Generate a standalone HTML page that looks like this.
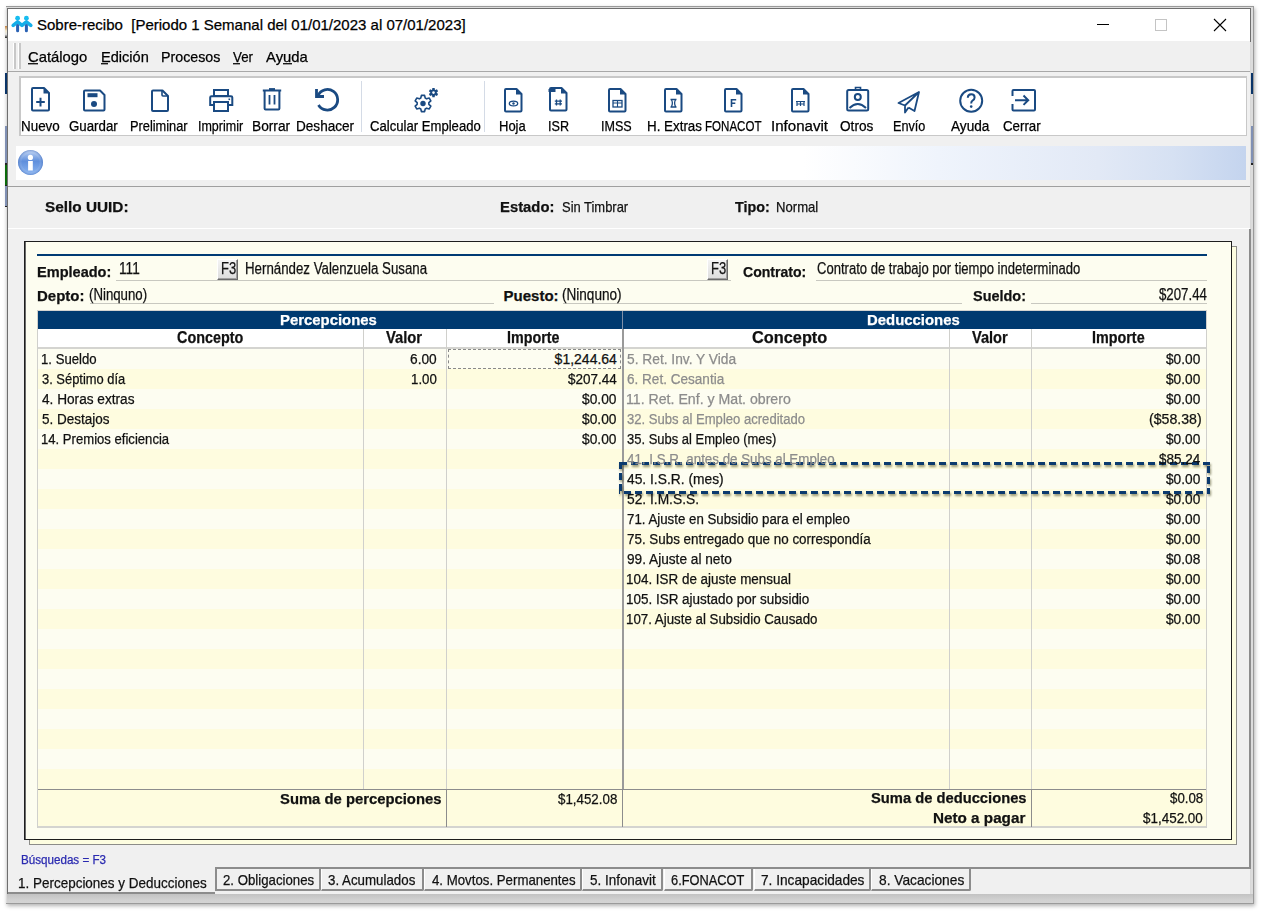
<!DOCTYPE html><html><head><meta charset="utf-8"><style>
html,body{margin:0;padding:0;}body{width:1262px;height:912px;position:relative;overflow:hidden;background:#fff;font-family:"Liberation Sans", sans-serif;}
.t{position:absolute;white-space:pre;transform-origin:0 0;-webkit-text-stroke:0.25px currentColor;}.t.nb{-webkit-text-stroke:0;}u{text-decoration:none;border-bottom:1px solid currentColor;}

.ic{position:absolute;overflow:visible}

</style></head><body>
<div style="position:absolute;left:6px;top:6px;width:1248px;height:898px;box-sizing:border-box;border:1px solid #9a9a9a;border-left:none;background:#dcdcdc;box-shadow:1px 2px 4px rgba(0,0,0,0.30);"></div>
<div style="position:absolute;left:7px;top:894px;width:1246px;height:9px;background:linear-gradient(#c2c2c2,#d0d0d0 60%,#d4d4d4);"></div>
<div style="position:absolute;left:7px;top:8px;width:1244px;height:886px;box-sizing:border-box;border:1px solid #6e6e6e;border-bottom:none;border-right-color:#d8d8d8;background:#f0f0f0;"></div>
<div style="position:absolute;left:1250px;top:8px;width:1px;height:34px;background:#6e6e6e;"></div>
<div style="position:absolute;left:5px;top:26px;width:2px;height:12px;background:linear-gradient(#c08040,#f0e8d0 40%,#e0e0e0 70%,#202020);"></div>
<div style="position:absolute;left:5px;top:73px;width:2px;height:21px;background:#0a3468;"></div>
<div style="position:absolute;left:5px;top:126px;width:2px;height:37px;background:#8090b4;"></div>
<div style="position:absolute;left:5px;top:163px;width:2px;height:2px;background:#222;"></div>
<div style="position:absolute;left:5px;top:165px;width:2px;height:20px;background:#0a6a0a;"></div>
<div style="position:absolute;left:5px;top:185px;width:2px;height:1px;background:#222;"></div>
<div style="position:absolute;left:5px;top:186px;width:2px;height:20px;background:#8090b4;"></div>
<div style="position:absolute;left:5px;top:206px;width:2px;height:1px;background:#222;"></div>
<div style="position:absolute;left:1251px;top:73px;width:2px;height:21px;background:#0a3468;"></div>
<div style="position:absolute;left:1251px;top:126px;width:2px;height:37px;background:#8090b4;"></div>
<div style="position:absolute;left:1251px;top:163px;width:2px;height:2px;background:#222;"></div>
<div style="position:absolute;left:8px;top:9px;width:1242px;height:32px;background:#fff;"></div>
<svg class="ic" style="left:11px;top:15px" width="22" height="18" viewBox="0 0 22 18">
<circle cx="6.6" cy="3.2" r="2.4" fill="#18bdf0"/><circle cx="15.4" cy="3.2" r="2.4" fill="#18bdf0"/>
<path d="M2.2 10.3 L6.6 6.8 L11 10.3 L15.4 6.8 L19.8 10.3" stroke="#14aee8" stroke-width="3.6" fill="none" stroke-linecap="round" stroke-linejoin="round"/>
<path d="M6.6 10.5 V15.8 M15.4 10.5 V15.8" stroke="#2a62b4" stroke-width="3" stroke-linecap="round"/>
</svg>
<div style="position:absolute;left:1097px;top:24px;width:12px;height:1px;background:#000;"></div>
<div style="position:absolute;left:1155px;top:19px;width:12px;height:12px;box-sizing:border-box;border:1px solid #c4c4c4;"></div>
<svg class="ic" style="left:1213px;top:18px" width="14" height="14" viewBox="0 0 14 14"><path d="M1 1L13 13M13 1L1 13" stroke="#000" stroke-width="1.1"/></svg>
<div style="position:absolute;left:8px;top:41px;width:1242px;height:30px;background:#f0f0f0;"></div>
<div style="position:absolute;left:8px;top:71px;width:1242px;height:1px;background:#a8a8a8;"></div>
<div style="position:absolute;left:13px;top:43px;width:1px;height:26px;background:#fff;"></div>
<div style="position:absolute;left:14px;top:43px;width:2px;height:26px;background:#c8c8c8;"></div>
<div style="position:absolute;left:18px;top:43px;width:1px;height:26px;background:#fff;"></div>
<div style="position:absolute;left:19px;top:43px;width:2px;height:26px;background:#c8c8c8;"></div>
<div style="position:absolute;left:28px;top:63px;width:10px;height:1px;background:#1a1a1a;"></div>
<div style="position:absolute;left:28px;top:64px;width:10px;height:1px;background:#9a9a9a;"></div>
<div style="position:absolute;left:101px;top:63px;width:7px;height:1px;background:#1a1a1a;"></div>
<div style="position:absolute;left:101px;top:64px;width:7px;height:1px;background:#9a9a9a;"></div>
<div style="position:absolute;left:233px;top:63px;width:7px;height:1px;background:#1a1a1a;"></div>
<div style="position:absolute;left:233px;top:64px;width:7px;height:1px;background:#9a9a9a;"></div>
<div style="position:absolute;left:283px;top:63px;width:8.5px;height:1px;background:#1a1a1a;"></div>
<div style="position:absolute;left:283px;top:64px;width:8.5px;height:1px;background:#9a9a9a;"></div>
<div style="position:absolute;left:19px;top:76px;width:1228px;height:60px;box-sizing:border-box;border:2px solid #c8c8c8;border-right-width:1px;border-bottom-width:1px;background:#fff;"></div>
<div style="position:absolute;left:361px;top:81px;width:1px;height:51px;background:#d4dbe6;"></div>
<div style="position:absolute;left:484px;top:81px;width:1px;height:51px;background:#d4dbe6;"></div>
<svg class="ic" style="left:30.5px;top:86.5px" width="20" height="26" viewBox="0 0 20 26"><path d="M2 1H13L18 6V22.5Q18 23.5 17 23.5H2Q1 23.5 1 22.5V2Q1 1 2 1Z" stroke="#1a4a82" fill="none" stroke-width="2" stroke-linejoin="round"/><path d="M12.5 1L18 6.5H12.5Z" fill="#1a4a82"/><path d="M9.5 10.8V19.4M5.2 15.1H13.8" stroke="#1a4a82" stroke-width="2"/></svg>
<svg class="ic" style="left:82.5px;top:88.5px" width="23" height="23" viewBox="0 0 23 23"><path d="M2 1.5H17L21.5 6V20.5Q21.5 21.5 20.5 21.5H2Q1 21.5 1 20.5V2.5Q1 1.5 2 1.5Z" stroke="#1a4a82" fill="none" stroke-width="2" stroke-linejoin="round"/><rect x="4.5" y="4.2" width="10" height="4" fill="#1a4a82"/><circle cx="11" cy="15" r="3" fill="#1a4a82"/></svg>
<svg class="ic" style="left:150.5px;top:88.5px" width="19" height="24" viewBox="0 0 19 24"><path d="M2 1.5H11.5L17 7V21Q17 22 16 22H2Q1 22 1 21V2.5Q1 1.5 2 1.5Z" stroke="#1a4a82" fill="none" stroke-width="2" stroke-linejoin="round"/><path d="M11 1.5V6Q11 7 12 7H17" stroke="#1a4a82" fill="none" stroke-width="1.6"/></svg>
<svg class="ic" style="left:208.5px;top:89px" width="25" height="24" viewBox="0 0 25 24"><rect x="5" y="1" width="14" height="6" stroke="#1a4a82" fill="none" stroke-width="2"/><path d="M5 16H1.2V8.5Q1.2 7.2 2.5 7.2H22Q23.3 7.2 23.3 8.5V16H19" stroke="#1a4a82" fill="none" stroke-width="2"/><rect x="5" y="13" width="14" height="9" stroke="#1a4a82" fill="none" stroke-width="2"/><rect x="19.5" y="9.5" width="1.6" height="1.6" fill="#1a4a82"/></svg>
<svg class="ic" style="left:261.5px;top:88px" width="21" height="24" viewBox="0 0 21 24"><path d="M0.8 2.5H19.2" stroke="#1a4a82" stroke-width="2"/><path d="M7 1.2H13" stroke="#1a4a82" stroke-width="2.2"/><path d="M2.6 3V20.5Q2.6 21.5 3.6 21.5H16.4Q17.4 21.5 17.4 20.5V3" stroke="#1a4a82" fill="none" stroke-width="2"/><path d="M7.5 7V16.5M12.5 7V16.5" stroke="#1a4a82" stroke-width="1.8"/></svg>
<svg class="ic" style="left:313px;top:88px" width="28" height="26" viewBox="0 0 28 26"><path d="M5.5 17A10.3 10.3 0 1 0 5 7.5" stroke="#1a4a82" fill="none" stroke-width="2.8"/><path d="M3.5 1V8.5H11" stroke="#1a4a82" fill="none" stroke-width="2.8"/></svg>
<svg class="ic" style="left:412px;top:86.5px" width="28" height="28" viewBox="0 0 28 28"><path d="M8.79 11.03 L9.42 8.35 L12.58 8.35 L13.21 11.03 L14.63 11.85 L17.26 11.05 L18.85 13.80 L16.84 15.68 L16.84 17.32 L18.85 19.20 L17.26 21.95 L14.63 21.15 L13.21 21.97 L12.58 24.65 L9.42 24.65 L8.79 21.97 L7.37 21.15 L4.74 21.95 L3.15 19.20 L5.16 17.32 L5.16 15.68 L3.15 13.80 L4.74 11.05 L7.37 11.85Z" stroke="#1a4a82" stroke-width="1.6" fill="none" stroke-linejoin="round"/><circle cx="11" cy="16.5" r="2.7" fill="#1a4a82"/><path d="M20.10 2.72 L20.34 0.94 L22.66 0.94 L22.90 2.72 L23.29 2.95 L24.95 2.27 L26.11 4.28 L24.69 5.38 L24.69 5.82 L26.11 6.92 L24.95 8.93 L23.29 8.25 L22.90 8.48 L22.66 10.26 L20.34 10.26 L20.10 8.48 L19.71 8.25 L18.05 8.93 L16.89 6.92 L18.31 5.82 L18.31 5.38 L16.89 4.28 L18.05 2.27 L19.71 2.95Z" fill="#1a4a82"/><circle cx="21.5" cy="5.6" r="1.3" fill="#fff"/></svg>
<svg class="ic" style="left:504px;top:87.5px" width="20" height="26" viewBox="0 0 20 26"><path d="M2 1H12.5L17.5 6V22.5Q17.5 23.5 16.5 23.5H2Q1 23.5 1 22.5V2Q1 1 2 1Z" stroke="#1a4a82" fill="none" stroke-width="2" stroke-linejoin="round"/><path d="M12.0 1L17.5 6.5H12.0Z" fill="#1a4a82"/><ellipse cx="9.5" cy="15.5" rx="4.2" ry="2.4" stroke="#1a4a82" stroke-width="1.3" fill="none"/><circle cx="9.5" cy="15.5" r="1.2" fill="#1a4a82"/></svg>
<svg class="ic" style="left:548.5px;top:86.5px" width="20" height="26" viewBox="0 0 20 26"><path d="M2 1H12.5L17.5 6V22.5Q17.5 23.5 16.5 23.5H2Q1 23.5 1 22.5V2Q1 1 2 1Z" stroke="#1a4a82" fill="none" stroke-width="2" stroke-linejoin="round"/><path d="M12.0 1L17.5 6.5H12.0Z" fill="#1a4a82"/><path d="M7.5 12.5V18.5M11.2 12.5V18.5M5.8 14.2H13M5.8 16.8H13" stroke="#1a4a82" stroke-width="1.3"/><rect x="-0.5" y="2" width="7" height="3" fill="#1a4a82"/></svg>
<svg class="ic" style="left:607.5px;top:87.5px" width="20" height="26" viewBox="0 0 20 26"><path d="M2 1H12.5L17.5 6V22.5Q17.5 23.5 16.5 23.5H2Q1 23.5 1 22.5V2Q1 1 2 1Z" stroke="#1a4a82" fill="none" stroke-width="2" stroke-linejoin="round"/><path d="M12.0 1L17.5 6.5H12.0Z" fill="#1a4a82"/><rect x="5" y="12.5" width="9" height="6.5" stroke="#1a4a82" stroke-width="1.3" fill="none"/><path d="M9.5 12.5V19M5 15H14" stroke="#1a4a82" stroke-width="1.1"/></svg>
<svg class="ic" style="left:664px;top:87.5px" width="20" height="26" viewBox="0 0 20 26"><path d="M2 1H12.5L17.5 6V22.5Q17.5 23.5 16.5 23.5H2Q1 23.5 1 22.5V2Q1 1 2 1Z" stroke="#1a4a82" fill="none" stroke-width="2" stroke-linejoin="round"/><path d="M12.0 1L17.5 6.5H12.0Z" fill="#1a4a82"/><path d="M6.5 11.5H12.5M6.5 19H12.5M7.3 11.5Q9.5 15 7.3 19M11.7 11.5Q9.5 15 11.7 19" stroke="#1a4a82" stroke-width="1.3" fill="none"/></svg>
<svg class="ic" style="left:723.5px;top:87.5px" width="20" height="26" viewBox="0 0 20 26"><path d="M2 1H12.5L17.5 6V22.5Q17.5 23.5 16.5 23.5H2Q1 23.5 1 22.5V2Q1 1 2 1Z" stroke="#1a4a82" fill="none" stroke-width="2" stroke-linejoin="round"/><path d="M12.0 1L17.5 6.5H12.0Z" fill="#1a4a82"/><path d="M7.5 19V11.8H12.2M7.5 15.2H11.3" stroke="#1a4a82" stroke-width="1.6" fill="none"/></svg>
<svg class="ic" style="left:790.5px;top:87.5px" width="20" height="26" viewBox="0 0 20 26"><path d="M2 1H12.5L17.5 6V22.5Q17.5 23.5 16.5 23.5H2Q1 23.5 1 22.5V2Q1 1 2 1Z" stroke="#1a4a82" fill="none" stroke-width="2" stroke-linejoin="round"/><path d="M12.0 1L17.5 6.5H12.0Z" fill="#1a4a82"/><path d="M5 13.5H14M6 13.5V18M9.5 13.5V18M13 13.5V18M5.5 16H13.5" stroke="#1a4a82" stroke-width="1.2" fill="none"/></svg>
<svg class="ic" style="left:846px;top:85.5px" width="24" height="26" viewBox="0 0 24 26"><rect x="1.2" y="4" width="21" height="20.5" rx="1.5" stroke="#1a4a82" fill="none" stroke-width="2"/><path d="M9.5 4V1.5H14.5V4" stroke="#1a4a82" stroke-width="1.6" fill="none"/><circle cx="11.8" cy="11" r="3" stroke="#1a4a82" fill="none" stroke-width="2"/><path d="M3.5 22Q11.8 14 20 22" stroke="#1a4a82" fill="none" stroke-width="2"/></svg>
<svg class="ic" style="left:897px;top:90.5px" width="24" height="23" viewBox="0 0 24 23"><path d="M22 1L1.5 12L8 14.5Z M22 1L8 14.5L8 21.5L11.5 16.5 M22 1L17.5 20L11.5 16.5" stroke="#1a4a82" stroke-width="1.8" fill="none" stroke-linejoin="round"/></svg>
<svg class="ic" style="left:958px;top:88px" width="27" height="26" viewBox="0 0 27 26"><circle cx="13.2" cy="12.8" r="11" stroke="#1a4a82" fill="none" stroke-width="2"/><path d="M9.8 9.8Q9.8 6.3 13.2 6.3Q16.6 6.3 16.6 9.5Q16.6 11.5 14.5 12.6Q13.2 13.3 13.2 15.5" stroke="#1a4a82" stroke-width="2" fill="none"/><circle cx="13.2" cy="18.6" r="1.3" fill="#1a4a82"/></svg>
<svg class="ic" style="left:1010.5px;top:89px" width="26" height="23" viewBox="0 0 26 23"><path d="M1.5 7V2Q1.5 1 2.5 1H23Q24 1 24 2V20.5Q24 21.5 23 21.5H2.5Q1.5 21.5 1.5 20.5V15" stroke="#1a4a82" fill="none" stroke-width="2"/><path d="M4 11.2H17M12.5 6.5L17.2 11.2L12.5 15.9" stroke="#1a4a82" fill="none" stroke-width="2"/></svg>
<div style="position:absolute;left:16px;top:146px;width:1230px;height:34px;background:linear-gradient(to right,#ffffff 0%,#ffffff 64%,#eff4fc 75%,#e2e9f6 88%,#d6e1f3 94%,#c4d4ee 100%);"></div>
<svg class="ic" style="left:17px;top:149px" width="27" height="27" viewBox="0 0 27 27">
<defs><linearGradient id="ib" x1="0" y1="0" x2="0" y2="1"><stop offset="0" stop-color="#c0d4f4"/><stop offset="0.45" stop-color="#5f8fdc"/><stop offset="1" stop-color="#8cb6f2"/></linearGradient>
<radialGradient id="ib2" cx="50%" cy="50%" r="50%"><stop offset="0.7" stop-color="#fff" stop-opacity="0"/><stop offset="1" stop-color="#2a5ab0" stop-opacity="0.45"/></radialGradient></defs>
<circle cx="13.5" cy="13.5" r="12.4" fill="url(#ib)"/><circle cx="13.5" cy="13.5" r="12.4" fill="url(#ib2)"/>
<circle cx="13.4" cy="8.4" r="2.6" fill="#fff"/><rect x="11.1" y="12" width="4.7" height="9.5" fill="#fff"/>
</svg>
<div style="position:absolute;left:8px;top:186px;width:1242px;height:1px;background:#a0a0a0;"></div>
<div style="position:absolute;left:8px;top:228px;width:1242px;height:1px;background:#fff;"></div>
<div style="position:absolute;left:1249px;top:229px;width:2px;height:640px;background:#8c8c8c;"></div>
<div style="position:absolute;left:8px;top:867px;width:1243px;height:2px;background:#8c8c8c;"></div>
<div style="position:absolute;left:29px;top:246px;width:1208px;height:599px;box-sizing:border-box;border:1px solid #8c8c88;background:#fdfde0;"></div>
<div style="position:absolute;left:24px;top:241px;width:1208px;height:599px;box-sizing:border-box;border:1px solid #1e1e1e;box-shadow:inset 1px 0 0 #6a6a6a;background:#fdfdf0;"></div>
<div style="position:absolute;left:37px;top:254px;width:1170px;height:2px;background:#003b74;"></div>
<div style="position:absolute;left:116px;top:280px;width:615px;height:1px;background:#c8c8c0;"></div>
<div style="position:absolute;left:816px;top:280px;width:391px;height:1px;background:#c8c8c0;"></div>
<div style="position:absolute;left:90px;top:303px;width:404px;height:1px;background:#c8c8c0;"></div>
<div style="position:absolute;left:563px;top:303px;width:399px;height:1px;background:#c8c8c0;"></div>
<div style="position:absolute;left:1031px;top:303px;width:176px;height:1px;background:#c8c8c0;"></div>
<div style="position:absolute;left:217px;top:259px;width:21px;height:21px;box-sizing:border-box;background:linear-gradient(#f4f4f4,#dcdcdc);border:1px solid;border-color:#fff #6a6a6a #6a6a6a #fff;box-shadow:inset -1px -1px 0 #a0a0a0;"></div>
<div style="position:absolute;left:707px;top:259px;width:21px;height:21px;box-sizing:border-box;background:linear-gradient(#f4f4f4,#dcdcdc);border:1px solid;border-color:#fff #6a6a6a #6a6a6a #fff;box-shadow:inset -1px -1px 0 #a0a0a0;"></div>
<div style="position:absolute;left:37px;top:310px;width:1170px;height:1px;background:#d4d4d0;"></div>
<div style="position:absolute;left:38px;top:311px;width:1168px;height:18px;background:#003a70;"></div>
<div style="position:absolute;left:622px;top:311px;width:1px;height:18px;background:#7f90a8;"></div>
<div style="position:absolute;left:38px;top:329px;width:1168px;height:18px;background:#fff;"></div>
<div style="position:absolute;left:38px;top:347px;width:1168px;height:2px;background:#d4d4d0;"></div>
<div style="position:absolute;left:38px;top:349px;width:1168px;height:20px;background:#fdfdf1;"></div>
<div style="position:absolute;left:38px;top:369px;width:1168px;height:20px;background:#fefcdf;"></div>
<div style="position:absolute;left:38px;top:389px;width:1168px;height:20px;background:#fdfdf1;"></div>
<div style="position:absolute;left:38px;top:409px;width:1168px;height:20px;background:#fefcdf;"></div>
<div style="position:absolute;left:38px;top:429px;width:1168px;height:20px;background:#fdfdf1;"></div>
<div style="position:absolute;left:38px;top:449px;width:1168px;height:20px;background:#fefcdf;"></div>
<div style="position:absolute;left:38px;top:469px;width:1168px;height:20px;background:#fdfdf1;"></div>
<div style="position:absolute;left:38px;top:489px;width:1168px;height:20px;background:#fefcdf;"></div>
<div style="position:absolute;left:38px;top:509px;width:1168px;height:20px;background:#fdfdf1;"></div>
<div style="position:absolute;left:38px;top:529px;width:1168px;height:20px;background:#fefcdf;"></div>
<div style="position:absolute;left:38px;top:549px;width:1168px;height:20px;background:#fdfdf1;"></div>
<div style="position:absolute;left:38px;top:569px;width:1168px;height:20px;background:#fefcdf;"></div>
<div style="position:absolute;left:38px;top:589px;width:1168px;height:20px;background:#fdfdf1;"></div>
<div style="position:absolute;left:38px;top:609px;width:1168px;height:20px;background:#fefcdf;"></div>
<div style="position:absolute;left:38px;top:629px;width:1168px;height:20px;background:#fdfdf1;"></div>
<div style="position:absolute;left:38px;top:649px;width:1168px;height:20px;background:#fefcdf;"></div>
<div style="position:absolute;left:38px;top:669px;width:1168px;height:20px;background:#fdfdf1;"></div>
<div style="position:absolute;left:38px;top:689px;width:1168px;height:20px;background:#fefcdf;"></div>
<div style="position:absolute;left:38px;top:709px;width:1168px;height:20px;background:#fdfdf1;"></div>
<div style="position:absolute;left:38px;top:729px;width:1168px;height:20px;background:#fefcdf;"></div>
<div style="position:absolute;left:38px;top:749px;width:1168px;height:20px;background:#fdfdf1;"></div>
<div style="position:absolute;left:38px;top:769px;width:1168px;height:20px;background:#fefcdf;"></div>
<div style="position:absolute;left:38px;top:789px;width:1168px;height:38px;background:#fefcdf;"></div>
<div style="position:absolute;left:38px;top:789px;width:1168px;height:1px;background:#8c8c8c;"></div>
<div style="position:absolute;left:38px;top:826px;width:1168px;height:2px;background:#d4d4d0;"></div>
<div style="position:absolute;left:37px;top:310px;width:1px;height:518px;background:#d0d0cc;"></div>
<div style="position:absolute;left:1206px;top:310px;width:1px;height:518px;background:#d0d0cc;"></div>
<div style="position:absolute;left:363px;top:329px;width:1px;height:460px;background:#d0d0cc;"></div>
<div style="position:absolute;left:949px;top:329px;width:1px;height:460px;background:#d0d0cc;"></div>
<div style="position:absolute;left:446px;top:329px;width:1px;height:460px;background:#d0d0cc;"></div>
<div style="position:absolute;left:446px;top:790px;width:1px;height:37px;background:#8c8c8c;"></div>
<div style="position:absolute;left:1031px;top:329px;width:1px;height:460px;background:#d0d0cc;"></div>
<div style="position:absolute;left:1031px;top:790px;width:1px;height:37px;background:#8c8c8c;"></div>
<div style="position:absolute;left:622px;top:329px;width:2px;height:460px;background:#9a9a9a;"></div>
<div style="position:absolute;left:622px;top:790px;width:1px;height:37px;background:#8c8c8c;"></div>
<div style="position:absolute;left:448px;top:349px;width:173px;height:20px;box-sizing:border-box;border:1px dashed #8a8a8a;"></div>
<svg class="ic" style="left:614px;top:457px;filter:drop-shadow(1.5px 2.5px 1.2px rgba(70,70,30,0.55))" width="604" height="44" viewBox="0 0 604 44"><g stroke="#0b3a6e" stroke-width="3" fill="none"><path d="M596 6.5H5" stroke-dasharray="7 4" stroke-dashoffset="0"/><path d="M596 35.5H5" stroke-dasharray="7 4" stroke-dashoffset="4"/><path d="M6.5 5V37" stroke-dasharray="7 4" stroke-dashoffset="0"/><path d="M594.5 5V37" stroke-dasharray="7 4" stroke-dashoffset="-4"/></g></svg>
<div style="position:absolute;left:8px;top:867px;width:207px;height:2px;background:#f0f0f0;"></div>
<div style="position:absolute;left:8px;top:892px;width:207px;height:2px;background:#8c8c8c;"></div>
<div style="position:absolute;left:215px;top:869px;width:106px;height:22px;box-sizing:border-box;background:#f0f0f0;border-left:2px solid #8c8c8c;border-right:2px solid #8c8c8c;border-bottom:2px solid #8c8c8c;border-bottom-right-radius:2px;"></div>
<div style="position:absolute;left:321px;top:869px;width:103px;height:22px;box-sizing:border-box;background:#f0f0f0;border-left:1px solid #fff;border-right:2px solid #8c8c8c;border-bottom:2px solid #8c8c8c;border-bottom-right-radius:2px;"></div>
<div style="position:absolute;left:424px;top:869px;width:158px;height:22px;box-sizing:border-box;background:#f0f0f0;border-left:1px solid #fff;border-right:2px solid #8c8c8c;border-bottom:2px solid #8c8c8c;border-bottom-right-radius:2px;"></div>
<div style="position:absolute;left:582px;top:869px;width:81px;height:22px;box-sizing:border-box;background:#f0f0f0;border-left:1px solid #fff;border-right:2px solid #8c8c8c;border-bottom:2px solid #8c8c8c;border-bottom-right-radius:2px;"></div>
<div style="position:absolute;left:664px;top:869px;width:89px;height:22px;box-sizing:border-box;background:#f0f0f0;border-left:1px solid #fff;border-right:2px solid #8c8c8c;border-bottom:2px solid #8c8c8c;border-bottom-right-radius:2px;"></div>
<div style="position:absolute;left:754px;top:869px;width:117px;height:22px;box-sizing:border-box;background:#f0f0f0;border-left:1px solid #fff;border-right:2px solid #8c8c8c;border-bottom:2px solid #8c8c8c;border-bottom-right-radius:2px;"></div>
<div style="position:absolute;left:871px;top:869px;width:100px;height:22px;box-sizing:border-box;background:#f0f0f0;border-left:1px solid #fff;border-right:2px solid #8c8c8c;border-bottom:2px solid #8c8c8c;border-bottom-right-radius:2px;"></div>
<div class="t" style="left:37.00px;top:17.30px;font-size:15px;line-height:15px;">Sobre-recibo  [Periodo 1 Semanal del 01/01/2023 al 07/01/2023]</div>
<div class="t" style="left:28.00px;top:49.30px;font-size:15px;line-height:15px;transform:scaleX(0.9882);">Catálogo</div>
<div class="t" style="left:100.53px;top:49.30px;font-size:15px;line-height:15px;transform:scaleX(0.9717);">Edición</div>
<div class="t" style="left:161.05px;top:49.30px;font-size:15px;line-height:15px;transform:scaleX(0.9504);">Procesos</div>
<div class="t" style="left:233.00px;top:49.30px;font-size:15px;line-height:15px;transform:scaleX(0.8881);">Ver</div>
<div class="t" style="left:265.50px;top:49.30px;font-size:15px;line-height:15px;transform:scaleX(0.9902);">Ayuda</div>
<div class="t" style="left:20.54px;top:119.15px;font-size:14px;line-height:14px;transform:scaleX(0.9576);">Nuevo</div>
<div class="t" style="left:69.00px;top:119.15px;font-size:14px;line-height:14px;transform:scaleX(0.9478);">Guardar</div>
<div class="t" style="left:130.09px;top:119.15px;font-size:14px;line-height:14px;transform:scaleX(0.9142);">Preliminar</div>
<div class="t" style="left:197.61px;top:119.15px;font-size:14px;line-height:14px;transform:scaleX(0.8921);">Imprimir</div>
<div class="t" style="left:251.52px;top:119.15px;font-size:14px;line-height:14px;transform:scaleX(0.9808);">Borrar</div>
<div class="t" style="left:295.53px;top:119.15px;font-size:14px;line-height:14px;transform:scaleX(0.9704);">Deshacer</div>
<div class="t" style="left:370.00px;top:119.15px;font-size:14px;line-height:14px;transform:scaleX(0.9367);">Calcular Empleado</div>
<div class="t" style="left:499.07px;top:119.15px;font-size:14px;line-height:14px;transform:scaleX(0.9283);">Hoja</div>
<div class="t" style="left:547.80px;top:119.15px;font-size:14px;line-height:14px;transform:scaleX(0.8998);">ISR</div>
<div class="t" style="left:600.60px;top:119.15px;font-size:14px;line-height:14px;transform:scaleX(0.8969);">IMSS</div>
<div class="t" style="left:647.05px;top:119.15px;font-size:14px;line-height:14px;transform:scaleX(0.9546);">H. Extras</div>
<div class="t" style="left:705.18px;top:119.15px;font-size:14px;line-height:14px;transform:scaleX(0.8249);">FONACOT</div>
<div class="t" style="left:771.32px;top:119.15px;font-size:14px;line-height:14px;transform:scaleX(1.0781);">Infonavit</div>
<div class="t" style="left:840.30px;top:119.15px;font-size:14px;line-height:14px;transform:scaleX(0.9729);">Otros</div>
<div class="t" style="left:893.39px;top:119.15px;font-size:14px;line-height:14px;transform:scaleX(0.9054);">Envío</div>
<div class="t" style="left:951.40px;top:119.15px;font-size:14px;line-height:14px;transform:scaleX(0.9733);">Ayuda</div>
<div class="t" style="left:1003.00px;top:119.15px;font-size:14px;line-height:14px;transform:scaleX(0.9498);">Cerrar</div>
<div class="t" style="left:45.00px;top:199.30px;font-size:15px;line-height:15px;color:#111;font-weight:bold;transform:scaleX(1.0226);">Sello UUID:</div>
<div class="t" style="left:500.01px;top:199.30px;font-size:15px;line-height:15px;color:#111;font-weight:bold;transform:scaleX(0.9885);">Estado:</div>
<div class="t" style="left:562.00px;top:199.30px;font-size:15px;line-height:15px;color:#111;transform:scaleX(0.8628);">Sin Timbrar</div>
<div class="t" style="left:734.70px;top:199.30px;font-size:15px;line-height:15px;color:#111;font-weight:bold;transform:scaleX(0.9552);">Tipo:</div>
<div class="t" style="left:776.43px;top:199.30px;font-size:15px;line-height:15px;color:#111;transform:scaleX(0.8743);">Normal</div>
<div class="t" style="left:220.79px;top:261.46px;font-size:16px;line-height:16px;color:#111;transform:scaleX(0.8102);">F3</div>
<div class="t" style="left:710.79px;top:261.46px;font-size:16px;line-height:16px;color:#111;transform:scaleX(0.8102);">F3</div>
<div class="t" style="left:36.63px;top:264.30px;font-size:15px;line-height:15px;color:#111;font-weight:bold;transform:scaleX(0.9694);">Empleado:</div>
<div class="t" style="left:119.15px;top:261.46px;font-size:16px;line-height:16px;color:#111;transform:scaleX(0.8539);">111</div>
<div class="t" style="left:244.67px;top:261.46px;font-size:16px;line-height:16px;color:#111;transform:scaleX(0.8297);">Hernández Valenzuela Susana</div>
<div class="t" style="left:743.20px;top:264.30px;font-size:15px;line-height:15px;color:#111;font-weight:bold;transform:scaleX(0.9370);">Contrato:</div>
<div class="t" style="left:816.60px;top:261.46px;font-size:16px;line-height:16px;color:#111;transform:scaleX(0.8156);">Contrato de trabajo por tiempo indeterminado</div>
<div class="t" style="left:36.60px;top:288.30px;font-size:15px;line-height:15px;color:#111;font-weight:bold;transform:scaleX(0.9979);">Depto:</div>
<div class="t" style="left:89.17px;top:287.46px;font-size:16px;line-height:16px;color:#111;transform:scaleX(0.8269);">(Ninquno)</div>
<div class="t" style="left:503.60px;top:288.30px;font-size:15px;line-height:15px;color:#111;font-weight:bold;">Puesto:</div>
<div class="t" style="left:562.15px;top:287.46px;font-size:16px;line-height:16px;color:#111;transform:scaleX(0.8472);">(Ninquno)</div>
<div class="t" style="left:973.00px;top:288.30px;font-size:15px;line-height:15px;color:#111;font-weight:bold;transform:scaleX(0.9629);">Sueldo:</div>
<div class="t" style="left:1159.00px;top:287.46px;font-size:16px;line-height:16px;color:#111;transform:scaleX(0.8285);">$207.44</div>
<div class="t" style="left:280.21px;top:312.30px;font-size:15px;line-height:15px;color:#fff;font-weight:bold;transform:scaleX(0.9926);">Percepciones</div>
<div class="t" style="left:867.01px;top:312.30px;font-size:15px;line-height:15px;color:#fff;font-weight:bold;transform:scaleX(0.9933);">Deducciones</div>
<div class="t" style="left:177.40px;top:330.26px;font-size:16px;line-height:16px;color:#111;font-weight:bold;transform:scaleX(0.8986);">Concepto</div>
<div class="t" style="left:386.00px;top:330.26px;font-size:16px;line-height:16px;color:#111;font-weight:bold;transform:scaleX(0.9227);">Valor</div>
<div class="t" style="left:507.11px;top:330.26px;font-size:16px;line-height:16px;color:#111;font-weight:bold;transform:scaleX(0.8949);">Importe</div>
<div class="t" style="left:751.50px;top:330.26px;font-size:16px;line-height:16px;color:#111;font-weight:bold;transform:scaleX(1.0203);">Concepto</div>
<div class="t" style="left:971.60px;top:330.26px;font-size:16px;line-height:16px;color:#111;font-weight:bold;transform:scaleX(0.9124);">Valor</div>
<div class="t" style="left:1092.30px;top:330.26px;font-size:16px;line-height:16px;color:#111;font-weight:bold;transform:scaleX(0.8966);">Importe</div>
<div class="t" style="left:41.36px;top:351.75px;font-size:14px;line-height:14px;color:#111;transform:scaleX(0.9405);">1. Sueldo</div>
<div class="t" style="left:410.10px;top:351.75px;font-size:14px;line-height:14px;color:#111;transform:scaleX(0.9795);">6.00</div>
<div class="t" style="left:554.60px;top:351.75px;font-size:14px;line-height:14px;color:#111;">$1,244.64</div>
<div class="t" style="left:42.30px;top:371.75px;font-size:14px;line-height:14px;color:#111;transform:scaleX(0.9228);">3. Séptimo día</div>
<div class="t" style="left:410.95px;top:371.75px;font-size:14px;line-height:14px;color:#111;transform:scaleX(0.9485);">1.00</div>
<div class="t" style="left:568.00px;top:371.75px;font-size:14px;line-height:14px;color:#111;transform:scaleX(0.9642);">$207.44</div>
<div class="t" style="left:42.30px;top:391.75px;font-size:14px;line-height:14px;color:#111;transform:scaleX(0.9745);">4. Horas extras</div>
<div class="t" style="left:582.30px;top:391.75px;font-size:14px;line-height:14px;color:#111;transform:scaleX(0.9845);">$0.00</div>
<div class="t" style="left:42.30px;top:411.75px;font-size:14px;line-height:14px;color:#111;transform:scaleX(0.9638);">5. Destajos</div>
<div class="t" style="left:582.30px;top:411.75px;font-size:14px;line-height:14px;color:#111;transform:scaleX(0.9845);">$0.00</div>
<div class="t" style="left:41.36px;top:431.75px;font-size:14px;line-height:14px;color:#111;transform:scaleX(0.9356);">14. Premios eficiencia</div>
<div class="t" style="left:582.30px;top:431.75px;font-size:14px;line-height:14px;color:#111;transform:scaleX(0.9845);">$0.00</div>
<div class="t" style="left:627.20px;top:351.75px;font-size:14px;line-height:14px;color:#8c8c8c;transform:scaleX(0.9825);">5. Ret. Inv. Y Vida</div>
<div class="t" style="left:1166.00px;top:351.75px;font-size:14px;line-height:14px;color:#111;transform:scaleX(0.9788);">$0.00</div>
<div class="t" style="left:627.20px;top:371.75px;font-size:14px;line-height:14px;color:#8c8c8c;transform:scaleX(0.9682);">6. Ret. Cesantia</div>
<div class="t" style="left:1166.00px;top:371.75px;font-size:14px;line-height:14px;color:#111;transform:scaleX(0.9788);">$0.00</div>
<div class="t" style="left:626.19px;top:391.75px;font-size:14px;line-height:14px;color:#8c8c8c;transform:scaleX(1.0101);">11. Ret. Enf. y Mat. obrero</div>
<div class="t" style="left:1166.00px;top:391.75px;font-size:14px;line-height:14px;color:#111;transform:scaleX(0.9788);">$0.00</div>
<div class="t" style="left:627.20px;top:411.75px;font-size:14px;line-height:14px;color:#8c8c8c;transform:scaleX(0.9335);">32. Subs al Empleo acreditado</div>
<div class="t" style="left:1148.50px;top:411.75px;font-size:14px;line-height:14px;color:#111;transform:scaleX(1.0101);">($58.38)</div>
<div class="t" style="left:627.20px;top:431.75px;font-size:14px;line-height:14px;color:#111;transform:scaleX(0.9276);">35. Subs al Empleo (mes)</div>
<div class="t" style="left:1166.00px;top:431.75px;font-size:14px;line-height:14px;color:#111;transform:scaleX(0.9788);">$0.00</div>
<div class="t" style="left:627.20px;top:451.75px;font-size:14px;line-height:14px;color:#8c8c8c;transform:scaleX(0.9527);">41. I.S.R. antes de Subs al Empleo</div>
<div class="t" style="left:1159.00px;top:451.75px;font-size:14px;line-height:14px;color:#111;transform:scaleX(0.9643);">$85.24</div>
<div class="t" style="left:627.20px;top:471.75px;font-size:14px;line-height:14px;color:#111;transform:scaleX(0.9860);">45. I.S.R. (mes)</div>
<div class="t" style="left:1166.00px;top:471.75px;font-size:14px;line-height:14px;color:#111;transform:scaleX(0.9788);">$0.00</div>
<div class="t" style="left:627.20px;top:491.75px;font-size:14px;line-height:14px;color:#111;transform:scaleX(0.9841);">52. I.M.S.S.</div>
<div class="t" style="left:1166.00px;top:491.75px;font-size:14px;line-height:14px;color:#111;transform:scaleX(0.9788);">$0.00</div>
<div class="t" style="left:627.20px;top:511.75px;font-size:14px;line-height:14px;color:#111;transform:scaleX(0.9482);">71. Ajuste en Subsidio para el empleo</div>
<div class="t" style="left:1166.00px;top:511.75px;font-size:14px;line-height:14px;color:#111;transform:scaleX(0.9788);">$0.00</div>
<div class="t" style="left:627.20px;top:531.75px;font-size:14px;line-height:14px;color:#111;transform:scaleX(0.9571);">75. Subs entregado que no correspondía</div>
<div class="t" style="left:1166.00px;top:531.75px;font-size:14px;line-height:14px;color:#111;transform:scaleX(0.9788);">$0.00</div>
<div class="t" style="left:627.20px;top:551.75px;font-size:14px;line-height:14px;color:#111;transform:scaleX(0.9760);">99. Ajuste al neto</div>
<div class="t" style="left:1166.00px;top:551.75px;font-size:14px;line-height:14px;color:#111;transform:scaleX(0.9788);">$0.08</div>
<div class="t" style="left:626.24px;top:571.75px;font-size:14px;line-height:14px;color:#111;transform:scaleX(0.9586);">104. ISR de ajuste mensual</div>
<div class="t" style="left:1166.00px;top:571.75px;font-size:14px;line-height:14px;color:#111;transform:scaleX(0.9788);">$0.00</div>
<div class="t" style="left:626.24px;top:591.75px;font-size:14px;line-height:14px;color:#111;transform:scaleX(0.9616);">105. ISR ajustado por subsidio</div>
<div class="t" style="left:1166.00px;top:591.75px;font-size:14px;line-height:14px;color:#111;transform:scaleX(0.9788);">$0.00</div>
<div class="t" style="left:626.25px;top:611.75px;font-size:14px;line-height:14px;color:#111;transform:scaleX(0.9500);">107. Ajuste al Subsidio Causado</div>
<div class="t" style="left:1166.00px;top:611.75px;font-size:14px;line-height:14px;color:#111;transform:scaleX(0.9788);">$0.00</div>
<div class="t" style="left:279.50px;top:790.80px;font-size:15px;line-height:15px;color:#111;font-weight:bold;transform:scaleX(0.9880);">Suma de percepciones</div>
<div class="t" style="left:558.00px;top:790.80px;font-size:15px;line-height:15px;color:#111;transform:scaleX(0.8887);">$1,452.08</div>
<div class="t" style="left:870.80px;top:790.30px;font-size:15px;line-height:15px;color:#111;font-weight:bold;transform:scaleX(0.9821);">Suma de deducciones</div>
<div class="t" style="left:933.48px;top:810.30px;font-size:15px;line-height:15px;color:#111;font-weight:bold;transform:scaleX(1.0164);">Neto a pagar</div>
<div class="t" style="left:1169.60px;top:790.30px;font-size:15px;line-height:15px;color:#111;transform:scaleX(0.8845);">$0.08</div>
<div class="t" style="left:1143.00px;top:810.30px;font-size:15px;line-height:15px;color:#111;transform:scaleX(0.8962);">$1,452.00</div>
<div class="t" style="left:20.50px;top:853.84px;font-size:12px;line-height:12px;color:#2a2ab0;transform:scaleX(0.9687);">Búsquedas = F3</div>
<div class="t" style="left:18.10px;top:875.30px;font-size:15px;line-height:15px;color:#111;transform:scaleX(0.8978);">1. Percepciones y Deducciones</div>
<div class="t" style="left:222.50px;top:872.30px;font-size:15px;line-height:15px;color:#111;transform:scaleX(0.8815);">2. Obligaciones</div>
<div class="t" style="left:328.40px;top:872.30px;font-size:15px;line-height:15px;color:#111;transform:scaleX(0.8873);">3. Acumulados</div>
<div class="t" style="left:431.60px;top:872.30px;font-size:15px;line-height:15px;color:#111;transform:scaleX(0.8829);">4. Movtos. Permanentes</div>
<div class="t" style="left:589.70px;top:872.30px;font-size:15px;line-height:15px;color:#111;transform:scaleX(0.8961);">5. Infonavit</div>
<div class="t" style="left:671.20px;top:872.30px;font-size:15px;line-height:15px;color:#111;transform:scaleX(0.8544);">6.FONACOT</div>
<div class="t" style="left:761.00px;top:872.30px;font-size:15px;line-height:15px;color:#111;transform:scaleX(0.9122);">7. Incapacidades</div>
<div class="t" style="left:878.80px;top:872.30px;font-size:15px;line-height:15px;color:#111;transform:scaleX(0.9156);">8. Vacaciones</div>
</body></html>
